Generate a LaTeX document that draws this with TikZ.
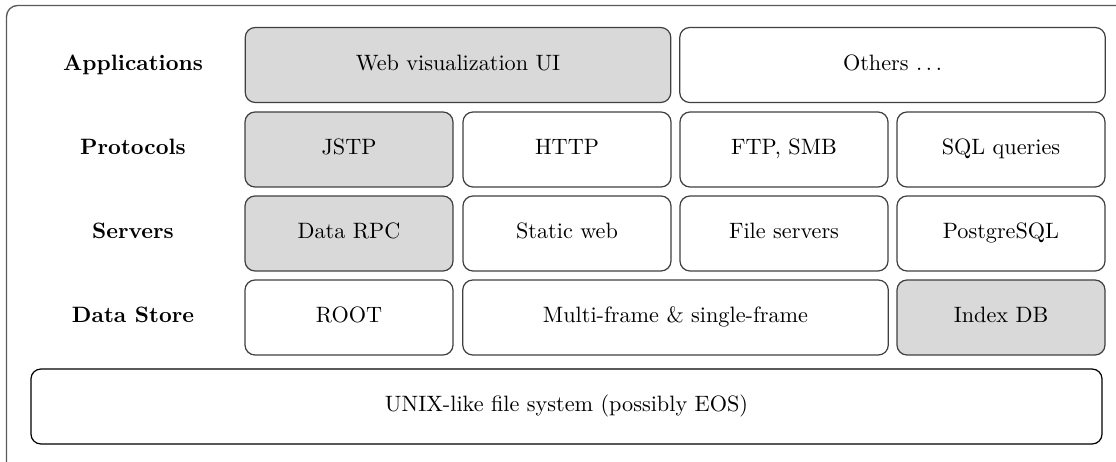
\documentclass[tikz,border=0pt]{standalone}
\begin{document}
\begin{tikzpicture}[x=0.45pt,y=-0.45pt,
  box/.style={draw=black!75, line width=0.55pt, rounded corners=4.5pt, fill=white,
    minimum height=33.75pt, inner sep=0pt, text height=1.6ex, text depth=0.5ex},
  sbox/.style={box, minimum width=93.6pt},
  wbox/.style={box, minimum width=191.5pt},
  hl/.style={fill=black!15},
  lbl/.style={font=\bfseries, inner sep=0pt, text height=1.6ex, text depth=0.5ex}]
\useasboundingbox (0,0) rectangle (1116,462);
\clip (0,0) rectangle (1116,462);
\draw[draw=black!65, line width=0.6pt, rounded corners=5pt] (6.5,5.5) rectangle (1140,475);
% labels
\node[lbl] (lapp) at (133,65) {Applications};
\node[lbl] (lpro) at (133,149.5) {Protocols};
\node[lbl] (lser) at (133,233.5) {Servers};
\node[lbl] (ldat) at (133,317.5) {Data Store};
% row 1
\node[wbox,hl] (web) at (458,65) {Web visualization UI};
\node[wbox] (oth) at (892.5,65) {Others $\ldots$};
% row 2
\node[sbox,hl] (jstp) at (349,149.5) {JSTP};
\node[sbox] (http) at (567,149.5) {HTTP};
\node[sbox] (ftp) at (784,149.5) {FTP, SMB};
\node[sbox] (sql) at (1001,149.5) {SQL queries};
% row 3
\node[sbox,hl] (rpc) at (349,233.5) {Data RPC};
\node[sbox] (sweb) at (567,233.5) {Static web};
\node[sbox] (fsrv) at (784,233.5) {File servers};
\node[sbox] (pg) at (1001,233.5) {PostgreSQL};
% row 4
\node[sbox] (root) at (349,317.5) {ROOT};
\node[wbox] (multi) at (675.5,317.5) {Multi-frame \& single-frame};
\node[sbox,hl] (idx) at (1001,317.5) {Index DB};
% row 5
\node[box, draw=black, minimum width=482pt] (unix) at (566.5,406.5) {UNIX-like file system (possibly EOS)};
\end{tikzpicture}
\end{document}
